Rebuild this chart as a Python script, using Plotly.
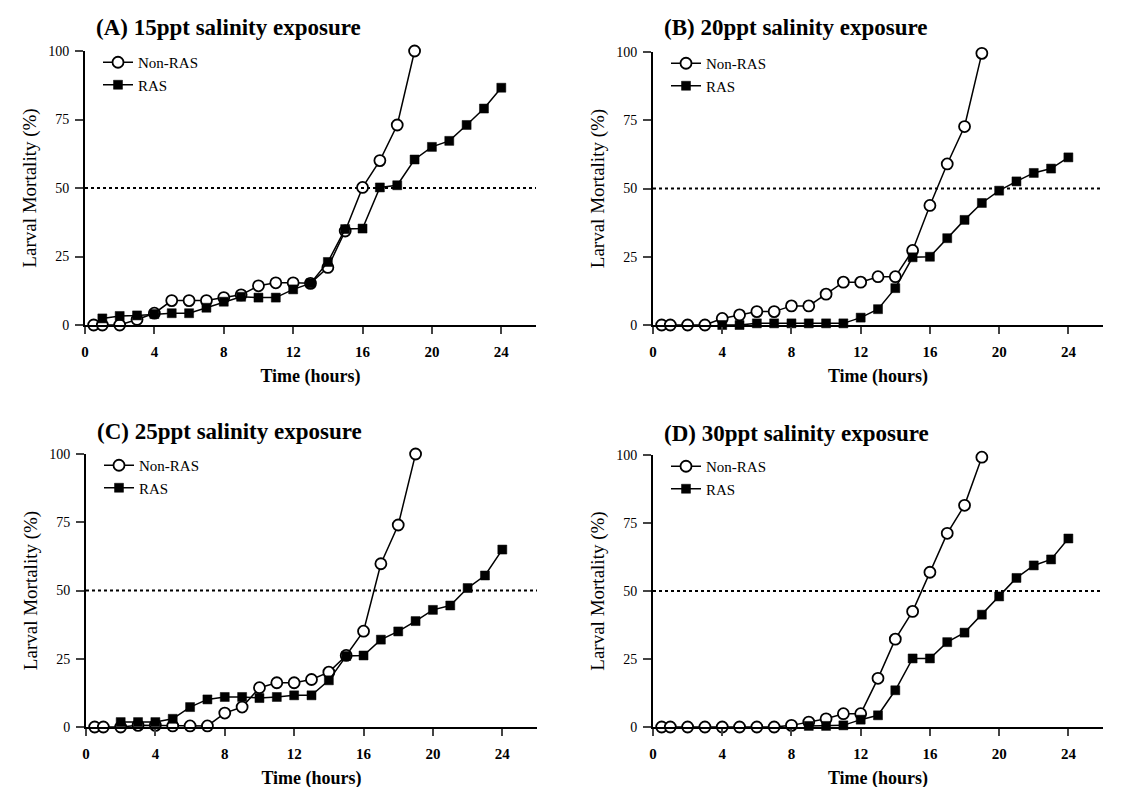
import plotly.graph_objects as go

# ---------------- data ----------------
hours_nonras = [0.5, 1, 2, 3, 4, 5, 6, 7, 8, 9, 10, 11, 12, 13, 14, 15, 16, 17, 18, 19]

a_nonras = [0, 0, 0, 2, 4.3, 8.9, 8.9, 8.9, 10, 11, 14.3, 15.4, 15.4, 15.2, 21, 34.3, 50.2, 60, 73, 100]
a_ras_hours = [1, 2, 3, 4, 5, 6, 7, 8, 9, 10, 11, 12, 13, 14, 15, 16, 17, 18, 19, 20, 21, 22, 23, 24]
a_ras = [2.4, 3.3, 3.5, 4, 4.3, 4.3, 6.3, 8.5, 10.3, 10, 10, 13, 15.2, 23, 35, 35.2, 50.2, 51, 60.4, 65, 67.2, 73, 79, 86.6]

b_nonras = [0, 0, 0, 0, 2.4, 3.7, 4.9, 4.9, 7, 7, 11.3, 15.7, 15.7, 17.7, 17.7, 27.3, 43.8, 59, 72.7, 99.5]
b_ras_hours = [4, 5, 6, 7, 8, 9, 10, 11, 12, 13, 14, 15, 16, 17, 18, 19, 20, 21, 22, 23, 24]
b_ras = [0, 0, 0.6, 0.6, 0.6, 0.6, 0.6, 0.6, 2.7, 5.8, 13.5, 24.8, 25, 31.8, 38.5, 44.7, 49.2, 52.6, 55.7, 57.3, 61.4]

c_nonras = [0, 0, 0, 0.6, 0.6, 0.4, 0.4, 0.4, 5.1, 7.3, 14.4, 16.2, 16.2, 17.4, 20.1, 26.2, 35.1, 59.8, 74, 100]
c_ras_hours = [2, 3, 4, 5, 6, 7, 8, 9, 10, 11, 12, 13, 14, 15, 16, 17, 18, 19, 20, 21, 22, 23, 24]
c_ras = [1.8, 1.8, 1.8, 3, 7.3, 10.1, 11, 11, 10.6, 11, 11.6, 11.6, 17.1, 26, 26.2, 32, 35, 38.8, 42.9, 44.5, 50.9, 55.5, 65]

d_nonras = [0, 0, 0, 0, 0, 0, 0, 0, 0.6, 1.8, 3, 4.9, 4.9, 17.9, 32.3, 42.5, 56.9, 71.2, 81.5, 99.2]
d_ras_hours = [9, 10, 11, 12, 13, 14, 15, 16, 17, 18, 19, 20, 21, 22, 23, 24]
d_ras = [0.4, 0.4, 0.6, 2.7, 4.3, 13.5, 25.2, 25.2, 31.2, 34.7, 41.3, 48, 54.8, 59.4, 61.6, 69.3]

titles = ["(A) 15ppt salinity exposure", "(B) 20ppt salinity exposure",
          "(C) 25ppt salinity exposure", "(D) 30ppt salinity exposure"]
x_ticks = [0, 4, 8, 12, 16, 20, 24]
y_ticks = [0, 25, 50, 75, 100]
threshold = 50

panels = [
    (a_nonras, a_ras_hours, a_ras),
    (b_nonras, b_ras_hours, b_ras),
    (c_nonras, c_ras_hours, c_ras),
    (d_nonras, d_ras_hours, d_ras),
]

# ---------------- layout geometry (pixels) ----------------
W, H = 1127, 787
OFF = 8  # page body margin
# (left, right, top, bottom) of each plot area in pixels
boxes = [(85, 536, 51, 325), (653, 1103, 52, 325),
         (86, 537, 454, 727), (653, 1103, 455, 727)]
title_y = [28, 28, 432, 433]


def px(x):
    return (x - OFF) / W


def py(y):
    return 1 - (y - OFF) / H


FONT = "Liberation Serif"
fig = go.Figure()

for i, ((nonras, ras_h, ras), (l, r, t, b)) in enumerate(zip(panels, boxes)):
    n = i + 1
    xa = "x" if n == 1 else f"x{n}"
    ya = "y" if n == 1 else f"y{n}"
    leg = "legend" if n == 1 else f"legend{n}"
    fig.add_trace(go.Scatter(
        x=hours_nonras, y=nonras, mode="lines+markers", name="Non-RAS",
        xaxis=xa, yaxis=ya, legend=leg, cliponaxis=False,
        line=dict(color="black", width=1.5),
        marker=dict(symbol="circle", size=11, color="white",
                    line=dict(color="black", width=1.8)),
    ))
    fig.add_trace(go.Scatter(
        x=ras_h, y=ras, mode="lines+markers", name="RAS",
        xaxis=xa, yaxis=ya, legend=leg, cliponaxis=False,
        line=dict(color="black", width=1.5),
        marker=dict(symbol="square", size=9, color="black",
                    line=dict(color="black", width=0.5)),
    ))
    axis_x = dict(
        domain=[px(l), px(r)], range=[0, 26], anchor=ya, automargin=False,
        tickvals=x_ticks, ticks="outside", ticklen=7, tickwidth=1.5,
        ticklabelstandoff=5,
        showline=True, linecolor="black", linewidth=2, showgrid=False,
        zeroline=False,
        tickfont=dict(family=FONT, size=15, color="black", weight="bold"),
        title=dict(text="Time (hours)", standoff=10,
                   font=dict(family=FONT, size=18, color="black", weight="bold")),
    )
    axis_y = dict(
        domain=[py(b), py(t)], range=[0, 100], anchor=xa, automargin=False,
        tickvals=y_ticks, ticks="outside", ticklen=8, tickwidth=1.5,
        ticklabelstandoff=3,
        showline=True, linecolor="black", linewidth=2, showgrid=False,
        zeroline=False,
        tickfont=dict(family=FONT, size=14, color="black"),
        title=dict(text="Larval Mortality (%)", standoff=7,
                   font=dict(family=FONT, size=19, color="black")),
    )
    key = "" if n == 1 else str(n)
    fig.update_layout(**{f"xaxis{key}": axis_x, f"yaxis{key}": axis_y})
    fig.update_layout(**{leg: dict(
        x=px(l + 13), y=py(t - 5), xanchor="left", yanchor="top",
        bgcolor="rgba(0,0,0,0)", tracegroupgap=0, itemwidth=30,
        font=dict(family=FONT, size=15, color="black"),
    )})
    fig.add_shape(type="line", xref=xa, yref=ya, x0=0, x1=26,
                  y0=threshold, y1=threshold,
                  line=dict(color="black", width=2, dash="dot"))
    fig.add_annotation(text=f"<b>{titles[i]}</b>", xref="paper", yref="paper",
                       x=px(l + 9), y=py(title_y[i]), xanchor="left",
                       yanchor="middle", showarrow=False,
                       font=dict(family=FONT, size=23, color="black"))

fig.update_layout(width=W, height=H, margin=dict(l=0, r=0, t=0, b=0),
                  paper_bgcolor="white", plot_bgcolor="white")

fig.write_html("out.html")
